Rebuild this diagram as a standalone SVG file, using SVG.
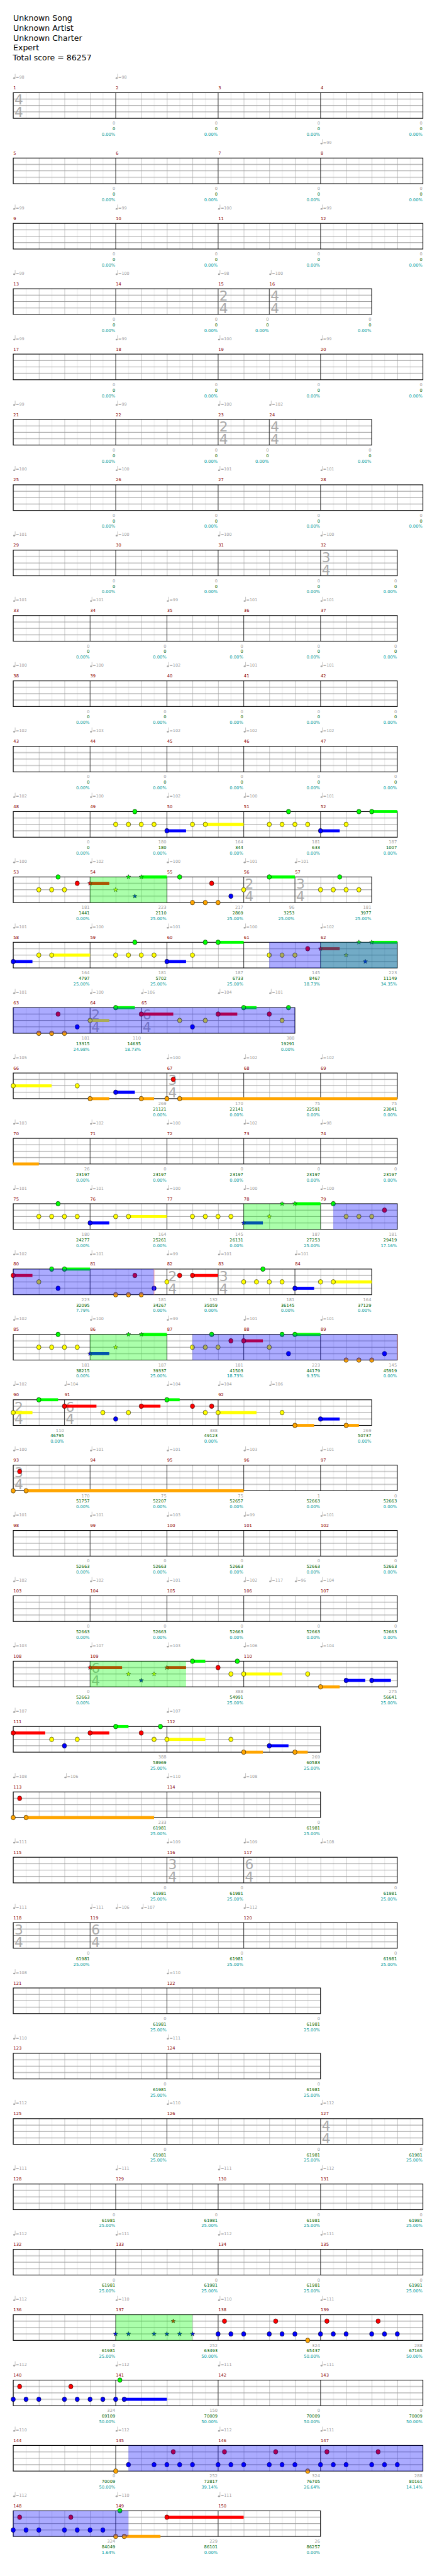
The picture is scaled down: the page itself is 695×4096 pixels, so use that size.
<svg xmlns="http://www.w3.org/2000/svg" xmlns:xlink="http://www.w3.org/1999/xlink" width="695" height="4096" viewBox="0 0 695 4096">
<style>
text{font-family:"DejaVu Sans","Liberation Sans",sans-serif}
.h{font-size:18.5px;fill:#000}
.mn{font-size:10px;fill:#8b0000}
.tp{font-size:9.5px;fill:#a0a0a0}
.sc{font-size:10px;fill:#a0a0a0;text-anchor:end}
.s2{fill:#006400}.s3{fill:#009999}
.ts{font-size:32px;fill:#aaa}
.g{fill:#00ff00}.r{fill:#ff0000}.y{fill:#ffff00}.b{fill:#0000ff}.o{fill:#ffa500}
.bl{fill:#0000ff;fill-opacity:.33}.gr{fill:#00ff00;fill-opacity:.33}
.bar{stroke:#000;stroke-width:1;fill:none}
.bd{fill:none;stroke:#000;stroke-width:1.6}
.gd{fill:url(#gd)}
.pk{stroke:#ff8080;stroke-width:1;fill:none}
</style>
<defs>
<pattern id="gd" width="60" height="60" patternUnits="userSpaceOnUse">
<rect width="60" height="60" fill="#fff"/>
<path d="M30.5 0v60" stroke="#ddd" stroke-width="1"/>
<path d="M0.5 0v60" stroke="#999" stroke-width="1"/>
<path d="M0 15h60M0 30h60M0 45h60" stroke="#999" stroke-width="1.5"/>
</pattern>
<ellipse id="n" rx="5" ry="5.5" stroke="#000" stroke-width=".8"/>
<polygon id="s" points="0,-5.5 1.35,-1.86 5.23,-1.7 2.19,0.71 3.23,4.45 0,2.3 -3.23,4.45 -2.19,0.71 -5.23,-1.7 -1.35,-1.86" stroke="#000" stroke-width=".7"/>
<g id="q" fill="#a0a0a0"><ellipse cx="2.3" cy="-34" rx="2.4" ry="1.8"/><path d="M4.5 -34V-44" stroke="#a0a0a0" stroke-width=".9"/></g>
</defs>
<rect width="695" height="4096" fill="#fff"/>
<g transform="scale(0.6787,0.6792)">
<g id="header">
<text class="h" x="31" y="49">Unknown Song</text>
<text class="h" x="31" y="72">Unknown Artist</text>
<text class="h" x="31" y="95">Unknown Charter</text>
<text class="h" x="31" y="118">Expert</text>
<text class="h" x="30" y="141">Total score = 86257</text>
</g>

<g id="row-1" transform="translate(31,217)">
<rect class="gd" width="960" height="60"/>
<path class="bar" d="M240 0v60M480 0v60M720 0v60"/>
<text class="ts" x="3" y="28">4</text><text class="ts" x="3" y="57">4</text>
<rect class="bd" width="960" height="60"/>
<use href="#q" x="0"/><text class="tp" x="6" y="-33">=98</text>
<use href="#q" x="240"/><text class="tp" x="246" y="-33">=98</text>
<text class="mn" x="0.5" y="-8">1</text><text class="mn" x="240.5" y="-8">2</text><text class="mn" x="480.5" y="-8">3</text><text class="mn" x="720.5" y="-8">4</text>
<text class="sc" x="239" y="75">0<tspan class="s2" x="239" y="88">0</tspan><tspan class="s3" x="239" y="101">0.00%</tspan></text>
<text class="sc" x="479" y="75">0<tspan class="s2" x="479" y="88">0</tspan><tspan class="s3" x="479" y="101">0.00%</tspan></text>
<text class="sc" x="719" y="75">0<tspan class="s2" x="719" y="88">0</tspan><tspan class="s3" x="719" y="101">0.00%</tspan></text>
<text class="sc" x="959" y="75">0<tspan class="s2" x="959" y="88">0</tspan><tspan class="s3" x="959" y="101">0.00%</tspan></text>
</g>

<g id="row-2" transform="translate(31,370)">
<rect class="gd" width="960" height="60"/>
<path class="bar" d="M240 0v60M480 0v60M720 0v60"/>
<rect class="bd" width="960" height="60"/>
<use href="#q" x="720"/><text class="tp" x="726" y="-33">=99</text>
<text class="mn" x="0.5" y="-8">5</text><text class="mn" x="240.5" y="-8">6</text><text class="mn" x="480.5" y="-8">7</text><text class="mn" x="720.5" y="-8">8</text>
<text class="sc" x="239" y="75">0<tspan class="s2" x="239" y="88">0</tspan><tspan class="s3" x="239" y="101">0.00%</tspan></text>
<text class="sc" x="479" y="75">0<tspan class="s2" x="479" y="88">0</tspan><tspan class="s3" x="479" y="101">0.00%</tspan></text>
<text class="sc" x="719" y="75">0<tspan class="s2" x="719" y="88">0</tspan><tspan class="s3" x="719" y="101">0.00%</tspan></text>
<text class="sc" x="959" y="75">0<tspan class="s2" x="959" y="88">0</tspan><tspan class="s3" x="959" y="101">0.00%</tspan></text>
</g>

<g id="row-3" transform="translate(31,523)">
<rect class="gd" width="960" height="60"/>
<path class="bar" d="M240 0v60M480 0v60M720 0v60"/>
<rect class="bd" width="960" height="60"/>
<use href="#q" x="0"/><text class="tp" x="6" y="-33">=99</text>
<use href="#q" x="240"/><text class="tp" x="246" y="-33">=99</text>
<use href="#q" x="480"/><text class="tp" x="486" y="-33">=100</text>
<use href="#q" x="720"/><text class="tp" x="726" y="-33">=99</text>
<text class="mn" x="0.5" y="-8">9</text><text class="mn" x="240.5" y="-8">10</text><text class="mn" x="480.5" y="-8">11</text><text class="mn" x="720.5" y="-8">12</text>
<text class="sc" x="239" y="75">0<tspan class="s2" x="239" y="88">0</tspan><tspan class="s3" x="239" y="101">0.00%</tspan></text>
<text class="sc" x="479" y="75">0<tspan class="s2" x="479" y="88">0</tspan><tspan class="s3" x="479" y="101">0.00%</tspan></text>
<text class="sc" x="719" y="75">0<tspan class="s2" x="719" y="88">0</tspan><tspan class="s3" x="719" y="101">0.00%</tspan></text>
<text class="sc" x="959" y="75">0<tspan class="s2" x="959" y="88">0</tspan><tspan class="s3" x="959" y="101">0.00%</tspan></text>
</g>

<g id="row-4" transform="translate(31,676)">
<rect class="gd" width="840" height="60"/>
<path class="bar" d="M240 0v60M480 0v60M600 0v60"/>
<text class="ts" x="483" y="28">2</text><text class="ts" x="483" y="57">4</text>
<text class="ts" x="603" y="28">4</text><text class="ts" x="603" y="57">4</text>
<rect class="bd" width="840" height="60"/>
<use href="#q" x="0"/><text class="tp" x="6" y="-33">=99</text>
<use href="#q" x="240"/><text class="tp" x="246" y="-33">=100</text>
<use href="#q" x="480"/><text class="tp" x="486" y="-33">=98</text>
<use href="#q" x="600"/><text class="tp" x="606" y="-33">=100</text>
<text class="mn" x="0.5" y="-8">13</text><text class="mn" x="240.5" y="-8">14</text><text class="mn" x="480.5" y="-8">15</text><text class="mn" x="600.5" y="-8">16</text>
<text class="sc" x="239" y="75">0<tspan class="s2" x="239" y="88">0</tspan><tspan class="s3" x="239" y="101">0.00%</tspan></text>
<text class="sc" x="479" y="75">0<tspan class="s2" x="479" y="88">0</tspan><tspan class="s3" x="479" y="101">0.00%</tspan></text>
<text class="sc" x="599" y="75">0<tspan class="s2" x="599" y="88">0</tspan><tspan class="s3" x="599" y="101">0.00%</tspan></text>
<text class="sc" x="839" y="75">0<tspan class="s2" x="839" y="88">0</tspan><tspan class="s3" x="839" y="101">0.00%</tspan></text>
</g>

<g id="row-5" transform="translate(31,829)">
<rect class="gd" width="960" height="60"/>
<path class="bar" d="M240 0v60M480 0v60M720 0v60"/>
<rect class="bd" width="960" height="60"/>
<use href="#q" x="0"/><text class="tp" x="6" y="-33">=99</text>
<use href="#q" x="240"/><text class="tp" x="246" y="-33">=99</text>
<use href="#q" x="480"/><text class="tp" x="486" y="-33">=100</text>
<use href="#q" x="720"/><text class="tp" x="726" y="-33">=99</text>
<text class="mn" x="0.5" y="-8">17</text><text class="mn" x="240.5" y="-8">18</text><text class="mn" x="480.5" y="-8">19</text><text class="mn" x="720.5" y="-8">20</text>
<text class="sc" x="239" y="75">0<tspan class="s2" x="239" y="88">0</tspan><tspan class="s3" x="239" y="101">0.00%</tspan></text>
<text class="sc" x="479" y="75">0<tspan class="s2" x="479" y="88">0</tspan><tspan class="s3" x="479" y="101">0.00%</tspan></text>
<text class="sc" x="719" y="75">0<tspan class="s2" x="719" y="88">0</tspan><tspan class="s3" x="719" y="101">0.00%</tspan></text>
<text class="sc" x="959" y="75">0<tspan class="s2" x="959" y="88">0</tspan><tspan class="s3" x="959" y="101">0.00%</tspan></text>
</g>

<g id="row-6" transform="translate(31,982)">
<rect class="gd" width="840" height="60"/>
<path class="bar" d="M240 0v60M480 0v60M600 0v60"/>
<text class="ts" x="483" y="28">2</text><text class="ts" x="483" y="57">4</text>
<text class="ts" x="603" y="28">4</text><text class="ts" x="603" y="57">4</text>
<rect class="bd" width="840" height="60"/>
<use href="#q" x="0"/><text class="tp" x="6" y="-33">=99</text>
<use href="#q" x="240"/><text class="tp" x="246" y="-33">=99</text>
<use href="#q" x="480"/><text class="tp" x="486" y="-33">=100</text>
<use href="#q" x="600"/><text class="tp" x="606" y="-33">=102</text>
<text class="mn" x="0.5" y="-8">21</text><text class="mn" x="240.5" y="-8">22</text><text class="mn" x="480.5" y="-8">23</text><text class="mn" x="600.5" y="-8">24</text>
<text class="sc" x="239" y="75">0<tspan class="s2" x="239" y="88">0</tspan><tspan class="s3" x="239" y="101">0.00%</tspan></text>
<text class="sc" x="479" y="75">0<tspan class="s2" x="479" y="88">0</tspan><tspan class="s3" x="479" y="101">0.00%</tspan></text>
<text class="sc" x="599" y="75">0<tspan class="s2" x="599" y="88">0</tspan><tspan class="s3" x="599" y="101">0.00%</tspan></text>
<text class="sc" x="839" y="75">0<tspan class="s2" x="839" y="88">0</tspan><tspan class="s3" x="839" y="101">0.00%</tspan></text>
</g>

<g id="row-7" transform="translate(31,1135)">
<rect class="gd" width="960" height="60"/>
<path class="bar" d="M240 0v60M480 0v60M720 0v60"/>
<rect class="bd" width="960" height="60"/>
<use href="#q" x="0"/><text class="tp" x="6" y="-33">=100</text>
<use href="#q" x="240"/><text class="tp" x="246" y="-33">=100</text>
<use href="#q" x="480"/><text class="tp" x="486" y="-33">=101</text>
<use href="#q" x="720"/><text class="tp" x="726" y="-33">=101</text>
<text class="mn" x="0.5" y="-8">25</text><text class="mn" x="240.5" y="-8">26</text><text class="mn" x="480.5" y="-8">27</text><text class="mn" x="720.5" y="-8">28</text>
<text class="sc" x="239" y="75">0<tspan class="s2" x="239" y="88">0</tspan><tspan class="s3" x="239" y="101">0.00%</tspan></text>
<text class="sc" x="479" y="75">0<tspan class="s2" x="479" y="88">0</tspan><tspan class="s3" x="479" y="101">0.00%</tspan></text>
<text class="sc" x="719" y="75">0<tspan class="s2" x="719" y="88">0</tspan><tspan class="s3" x="719" y="101">0.00%</tspan></text>
<text class="sc" x="959" y="75">0<tspan class="s2" x="959" y="88">0</tspan><tspan class="s3" x="959" y="101">0.00%</tspan></text>
</g>

<g id="row-8" transform="translate(31,1288)">
<rect class="gd" width="900" height="60"/>
<path class="bar" d="M240 0v60M480 0v60M720 0v60"/>
<text class="ts" x="723" y="28">3</text><text class="ts" x="723" y="57">4</text>
<rect class="bd" width="900" height="60"/>
<use href="#q" x="0"/><text class="tp" x="6" y="-33">=101</text>
<use href="#q" x="240"/><text class="tp" x="246" y="-33">=100</text>
<use href="#q" x="480"/><text class="tp" x="486" y="-33">=100</text>
<use href="#q" x="720"/><text class="tp" x="726" y="-33">=100</text>
<text class="mn" x="0.5" y="-8">29</text><text class="mn" x="240.5" y="-8">30</text><text class="mn" x="480.5" y="-8">31</text><text class="mn" x="720.5" y="-8">32</text>
<text class="sc" x="239" y="75">0<tspan class="s2" x="239" y="88">0</tspan><tspan class="s3" x="239" y="101">0.00%</tspan></text>
<text class="sc" x="479" y="75">0<tspan class="s2" x="479" y="88">0</tspan><tspan class="s3" x="479" y="101">0.00%</tspan></text>
<text class="sc" x="719" y="75">0<tspan class="s2" x="719" y="88">0</tspan><tspan class="s3" x="719" y="101">0.00%</tspan></text>
<text class="sc" x="899" y="75">0<tspan class="s2" x="899" y="88">0</tspan><tspan class="s3" x="899" y="101">0.00%</tspan></text>
</g>

<g id="row-9" transform="translate(31,1441)">
<rect class="gd" width="900" height="60"/>
<path class="bar" d="M180 0v60M360 0v60M540 0v60M720 0v60"/>
<rect class="bd" width="900" height="60"/>
<use href="#q" x="0"/><text class="tp" x="6" y="-33">=101</text>
<use href="#q" x="180"/><text class="tp" x="186" y="-33">=101</text>
<use href="#q" x="360"/><text class="tp" x="366" y="-33">=99</text>
<use href="#q" x="540"/><text class="tp" x="546" y="-33">=101</text>
<use href="#q" x="720"/><text class="tp" x="726" y="-33">=101</text>
<text class="mn" x="0.5" y="-8">33</text><text class="mn" x="180.5" y="-8">34</text><text class="mn" x="360.5" y="-8">35</text><text class="mn" x="540.5" y="-8">36</text><text class="mn" x="720.5" y="-8">37</text>
<text class="sc" x="179" y="75">0<tspan class="s2" x="179" y="88">0</tspan><tspan class="s3" x="179" y="101">0.00%</tspan></text>
<text class="sc" x="359" y="75">0<tspan class="s2" x="359" y="88">0</tspan><tspan class="s3" x="359" y="101">0.00%</tspan></text>
<text class="sc" x="539" y="75">0<tspan class="s2" x="539" y="88">0</tspan><tspan class="s3" x="539" y="101">0.00%</tspan></text>
<text class="sc" x="719" y="75">0<tspan class="s2" x="719" y="88">0</tspan><tspan class="s3" x="719" y="101">0.00%</tspan></text>
<text class="sc" x="899" y="75">0<tspan class="s2" x="899" y="88">0</tspan><tspan class="s3" x="899" y="101">0.00%</tspan></text>
</g>

<g id="row-10" transform="translate(31,1594)">
<rect class="gd" width="900" height="60"/>
<path class="bar" d="M180 0v60M360 0v60M540 0v60M720 0v60"/>
<rect class="bd" width="900" height="60"/>
<use href="#q" x="0"/><text class="tp" x="6" y="-33">=100</text>
<use href="#q" x="180"/><text class="tp" x="186" y="-33">=100</text>
<use href="#q" x="360"/><text class="tp" x="366" y="-33">=102</text>
<use href="#q" x="540"/><text class="tp" x="546" y="-33">=101</text>
<use href="#q" x="720"/><text class="tp" x="726" y="-33">=101</text>
<text class="mn" x="0.5" y="-8">38</text><text class="mn" x="180.5" y="-8">39</text><text class="mn" x="360.5" y="-8">40</text><text class="mn" x="540.5" y="-8">41</text><text class="mn" x="720.5" y="-8">42</text>
<text class="sc" x="179" y="75">0<tspan class="s2" x="179" y="88">0</tspan><tspan class="s3" x="179" y="101">0.00%</tspan></text>
<text class="sc" x="359" y="75">0<tspan class="s2" x="359" y="88">0</tspan><tspan class="s3" x="359" y="101">0.00%</tspan></text>
<text class="sc" x="539" y="75">0<tspan class="s2" x="539" y="88">0</tspan><tspan class="s3" x="539" y="101">0.00%</tspan></text>
<text class="sc" x="719" y="75">0<tspan class="s2" x="719" y="88">0</tspan><tspan class="s3" x="719" y="101">0.00%</tspan></text>
<text class="sc" x="899" y="75">0<tspan class="s2" x="899" y="88">0</tspan><tspan class="s3" x="899" y="101">0.00%</tspan></text>
</g>

<g id="row-11" transform="translate(31,1747)">
<rect class="gd" width="900" height="60"/>
<path class="bar" d="M180 0v60M360 0v60M540 0v60M720 0v60"/>
<rect class="bd" width="900" height="60"/>
<use href="#q" x="0"/><text class="tp" x="6" y="-33">=102</text>
<use href="#q" x="180"/><text class="tp" x="186" y="-33">=103</text>
<use href="#q" x="360"/><text class="tp" x="366" y="-33">=102</text>
<use href="#q" x="540"/><text class="tp" x="546" y="-33">=102</text>
<use href="#q" x="720"/><text class="tp" x="726" y="-33">=102</text>
<text class="mn" x="0.5" y="-8">43</text><text class="mn" x="180.5" y="-8">44</text><text class="mn" x="360.5" y="-8">45</text><text class="mn" x="540.5" y="-8">46</text><text class="mn" x="720.5" y="-8">47</text>
<text class="sc" x="179" y="75">0<tspan class="s2" x="179" y="88">0</tspan><tspan class="s3" x="179" y="101">0.00%</tspan></text>
<text class="sc" x="359" y="75">0<tspan class="s2" x="359" y="88">0</tspan><tspan class="s3" x="359" y="101">0.00%</tspan></text>
<text class="sc" x="539" y="75">0<tspan class="s2" x="539" y="88">0</tspan><tspan class="s3" x="539" y="101">0.00%</tspan></text>
<text class="sc" x="719" y="75">0<tspan class="s2" x="719" y="88">0</tspan><tspan class="s3" x="719" y="101">0.00%</tspan></text>
<text class="sc" x="899" y="75">0<tspan class="s2" x="899" y="88">0</tspan><tspan class="s3" x="899" y="101">0.00%</tspan></text>
</g>

<g id="row-12" transform="translate(31,1900)">
<rect class="gd" width="900" height="60"/>
<path class="bar" d="M180 0v60M360 0v60M540 0v60M720 0v60"/>
<rect class="bd" width="900" height="60"/>
<rect class="b" x="360" y="41.5" width="45" height="7"/><rect class="y" x="450" y="26.5" width="90" height="7"/><rect class="b" x="720" y="41.5" width="45" height="7"/><rect class="g" x="840" y="-3.5" width="60" height="7"/>
<use href="#n" class="g" x="285" y="0"/>
<use href="#n" class="y" x="240" y="30"/><use href="#n" class="y" x="270" y="30"/><use href="#n" class="y" x="300" y="30"/><use href="#n" class="y" x="330" y="30"/>
<use href="#n" class="b" x="360" y="45"/><use href="#n" class="y" x="420" y="30"/><use href="#n" class="y" x="450" y="30"/>
<use href="#n" class="g" x="645" y="0"/>
<use href="#n" class="y" x="600" y="30"/><use href="#n" class="y" x="630" y="30"/><use href="#n" class="y" x="660" y="30"/><use href="#n" class="y" x="690" y="30"/>
<use href="#n" class="b" x="720" y="45"/><use href="#n" class="y" x="780" y="30"/><use href="#n" class="g" x="810" y="0"/><use href="#n" class="g" x="840" y="0"/>
<use href="#q" x="0"/><text class="tp" x="6" y="-33">=102</text>
<use href="#q" x="180"/><text class="tp" x="186" y="-33">=100</text>
<use href="#q" x="360"/><text class="tp" x="366" y="-33">=102</text>
<use href="#q" x="540"/><text class="tp" x="546" y="-33">=100</text>
<use href="#q" x="720"/><text class="tp" x="726" y="-33">=101</text>
<text class="mn" x="0.5" y="-8">48</text><text class="mn" x="180.5" y="-8">49</text><text class="mn" x="360.5" y="-8">50</text><text class="mn" x="540.5" y="-8">51</text><text class="mn" x="720.5" y="-8">52</text>
<text class="sc" x="179" y="75">0<tspan class="s2" x="179" y="88">0</tspan><tspan class="s3" x="179" y="101">0.00%</tspan></text>
<text class="sc" x="359" y="75">180<tspan class="s2" x="359" y="88">180</tspan><tspan class="s3" x="359" y="101">0.00%</tspan></text>
<text class="sc" x="539" y="75">164<tspan class="s2" x="539" y="88">344</tspan><tspan class="s3" x="539" y="101">0.00%</tspan></text>
<text class="sc" x="719" y="75">181<tspan class="s2" x="719" y="88">633</tspan><tspan class="s3" x="719" y="101">0.00%</tspan></text>
<text class="sc" x="899" y="75">187<tspan class="s2" x="899" y="88">1007</tspan><tspan class="s3" x="899" y="101">0.00%</tspan></text>
</g>

<g id="row-13" transform="translate(31,2053)">
<rect class="gd" width="840" height="60"/>
<path class="bar" d="M180 0v60M360 0v60M540 0v60M660 0v60"/>
<text class="ts" x="543" y="28">2</text><text class="ts" x="543" y="57">4</text>
<text class="ts" x="663" y="28">3</text><text class="ts" x="663" y="57">4</text>
<rect class="bd" width="840" height="60"/>
<rect class="r" x="180" y="11.5" width="45" height="7"/><rect class="g" x="300" y="-3.5" width="60" height="7"/><rect class="g" x="600" y="-3.5" width="60" height="7"/>
<use href="#n" class="g" x="105" y="0"/><use href="#n" class="r" x="150" y="15"/>
<use href="#n" class="y" x="60" y="30"/><use href="#n" class="y" x="90" y="30"/><use href="#n" class="y" x="120" y="30"/>
<use href="#s" class="r" x="180" y="15"/><use href="#s" class="y" x="240" y="30"/><use href="#s" class="g" x="270" y="0"/><use href="#s" class="g" x="300" y="0"/><use href="#s" class="b" x="285" y="45"/>
<use href="#n" class="g" x="390" y="0"/><use href="#n" class="r" x="465" y="15"/>
<use href="#n" class="o" x="420" y="60"/><use href="#n" class="o" x="450" y="60"/><use href="#n" class="o" x="480" y="60"/>
<use href="#n" class="b" x="510" y="45"/><use href="#n" class="y" x="540" y="30"/><use href="#n" class="g" x="600" y="0"/><use href="#n" class="g" x="765" y="0"/>
<use href="#n" class="y" x="720" y="30"/><use href="#n" class="y" x="750" y="30"/><use href="#n" class="y" x="780" y="30"/><use href="#n" class="y" x="810" y="30"/>
<rect class="gr" x="180" y="0" width="180" height="60"/>
<use href="#q" x="0"/><text class="tp" x="6" y="-33">=100</text>
<use href="#q" x="180"/><text class="tp" x="186" y="-33">=102</text>
<use href="#q" x="360"/><text class="tp" x="366" y="-33">=100</text>
<use href="#q" x="540"/><text class="tp" x="546" y="-33">=101</text>
<use href="#q" x="660"/><text class="tp" x="666" y="-33">=101</text>
<text class="mn" x="0.5" y="-8">53</text><text class="mn" x="180.5" y="-8">54</text><text class="mn" x="360.5" y="-8">55</text><text class="mn" x="540.5" y="-8">56</text><text class="mn" x="660.5" y="-8">57</text>
<text class="sc" x="179" y="75">181<tspan class="s2" x="179" y="88">1441</tspan><tspan class="s3" x="179" y="101">0.00%</tspan></text>
<text class="sc" x="359" y="75">223<tspan class="s2" x="359" y="88">2110</tspan><tspan class="s3" x="359" y="101">25.00%</tspan></text>
<text class="sc" x="539" y="75">217<tspan class="s2" x="539" y="88">2869</tspan><tspan class="s3" x="539" y="101">25.00%</tspan></text>
<text class="sc" x="659" y="75">96<tspan class="s2" x="659" y="88">3253</tspan><tspan class="s3" x="659" y="101">25.00%</tspan></text>
<text class="sc" x="839" y="75">181<tspan class="s2" x="839" y="88">3977</tspan><tspan class="s3" x="839" y="101">25.00%</tspan></text>
</g>

<g id="row-14" transform="translate(31,2206)">
<rect class="gd" width="900" height="60"/>
<path class="bar" d="M180 0v60M360 0v60M540 0v60M720 0v60"/>
<rect class="bd" width="900" height="60"/>
<rect class="b" x="0" y="41.5" width="45" height="7"/><rect class="y" x="90" y="26.5" width="90" height="7"/><rect class="b" x="360" y="41.5" width="45" height="7"/><rect class="g" x="480" y="-3.5" width="60" height="7"/><rect class="r" x="720" y="11.5" width="45" height="7"/><rect class="g" x="840" y="-3.5" width="60" height="7"/>
<use href="#n" class="b" x="0" y="45"/><use href="#n" class="y" x="60" y="30"/><use href="#n" class="y" x="90" y="30"/>
<use href="#n" class="g" x="285" y="0"/>
<use href="#n" class="y" x="240" y="30"/><use href="#n" class="y" x="270" y="30"/><use href="#n" class="y" x="300" y="30"/><use href="#n" class="y" x="330" y="30"/>
<use href="#n" class="b" x="360" y="45"/><use href="#n" class="y" x="420" y="30"/><use href="#n" class="g" x="450" y="0"/><use href="#n" class="g" x="480" y="0"/>
<use href="#n" class="y" x="600" y="30"/><use href="#n" class="y" x="630" y="30"/><use href="#n" class="y" x="660" y="30"/><use href="#n" class="r" x="690" y="15"/>
<use href="#s" class="r" x="720" y="15"/><use href="#s" class="y" x="780" y="30"/><use href="#s" class="g" x="810" y="0"/><use href="#s" class="g" x="840" y="0"/><use href="#s" class="b" x="825" y="45"/>
<rect class="gr" x="720" y="0" width="180" height="60"/><rect class="bl" x="600" y="0" width="300" height="60"/>
<use href="#q" x="0"/><text class="tp" x="6" y="-33">=101</text>
<use href="#q" x="180"/><text class="tp" x="186" y="-33">=100</text>
<use href="#q" x="360"/><text class="tp" x="366" y="-33">=101</text>
<use href="#q" x="540"/><text class="tp" x="546" y="-33">=100</text>
<use href="#q" x="720"/><text class="tp" x="726" y="-33">=102</text>
<text class="mn" x="0.5" y="-8">58</text><text class="mn" x="180.5" y="-8">59</text><text class="mn" x="360.5" y="-8">60</text><text class="mn" x="540.5" y="-8">61</text><text class="mn" x="720.5" y="-8">62</text>
<text class="sc" x="179" y="75">164<tspan class="s2" x="179" y="88">4797</tspan><tspan class="s3" x="179" y="101">25.00%</tspan></text>
<text class="sc" x="359" y="75">181<tspan class="s2" x="359" y="88">5702</tspan><tspan class="s3" x="359" y="101">25.00%</tspan></text>
<text class="sc" x="539" y="75">187<tspan class="s2" x="539" y="88">6733</tspan><tspan class="s3" x="539" y="101">25.00%</tspan></text>
<text class="sc" x="719" y="75">145<tspan class="s2" x="719" y="88">8467</tspan><tspan class="s3" x="719" y="101">18.73%</tspan></text>
<text class="sc" x="899" y="75">223<tspan class="s2" x="899" y="88">11149</tspan><tspan class="s3" x="899" y="101">34.35%</tspan></text>
</g>

<g id="row-15" transform="translate(31,2359)">
<rect class="gd" width="660" height="60"/>
<path class="bar" d="M180 0v60M300 0v60"/>
<text class="ts" x="183" y="28">2</text><text class="ts" x="183" y="57">4</text>
<text class="ts" x="303" y="28">6</text><text class="ts" x="303" y="57">4</text>
<rect class="bd" width="660" height="60"/>
<rect class="y" x="180" y="26.5" width="45" height="7"/><rect class="g" x="240" y="-3.5" width="45" height="7"/><rect class="r" x="300" y="11.5" width="75" height="7"/><rect class="r" x="480" y="11.5" width="45" height="7"/><rect class="g" x="540" y="-3.5" width="30" height="7"/>
<use href="#n" class="r" x="105" y="15"/><use href="#n" class="b" x="150" y="45"/>
<use href="#n" class="o" x="60" y="60"/><use href="#n" class="o" x="90" y="60"/><use href="#n" class="o" x="120" y="60"/>
<use href="#n" class="y" x="180" y="30"/><use href="#n" class="g" x="240" y="0"/><use href="#n" class="r" x="300" y="15"/>
<use href="#n" class="y" x="390" y="30"/><use href="#n" class="b" x="420" y="45"/><use href="#n" class="y" x="450" y="30"/>
<use href="#n" class="r" x="480" y="15"/><use href="#n" class="g" x="540" y="0"/><use href="#n" class="r" x="600" y="15"/><use href="#n" class="y" x="630" y="30"/><use href="#n" class="g" x="645" y="0"/>
<rect class="bl" x="0" y="0" width="660" height="60"/>
<use href="#q" x="0"/><text class="tp" x="6" y="-33">=101</text>
<use href="#q" x="180"/><text class="tp" x="186" y="-33">=100</text>
<use href="#q" x="300"/><text class="tp" x="306" y="-33">=106</text>
<use href="#q" x="480"/><text class="tp" x="486" y="-33">=104</text>
<use href="#q" x="600"/><text class="tp" x="606" y="-33">=101</text>
<text class="mn" x="0.5" y="-8">63</text><text class="mn" x="180.5" y="-8">64</text><text class="mn" x="300.5" y="-8">65</text>
<text class="sc" x="179" y="75">181<tspan class="s2" x="179" y="88">13315</tspan><tspan class="s3" x="179" y="101">24.98%</tspan></text>
<text class="sc" x="299" y="75">110<tspan class="s2" x="299" y="88">14635</tspan><tspan class="s3" x="299" y="101">18.73%</tspan></text>
<text class="sc" x="659" y="75">388<tspan class="s2" x="659" y="88">19291</tspan><tspan class="s3" x="659" y="101">0.00%</tspan></text>
</g>

<g id="row-16" transform="translate(31,2512)">
<rect class="gd" width="900" height="60"/>
<path class="bar" d="M360 0v60M540 0v60M720 0v60"/>
<text class="ts" x="363" y="28">3</text><text class="ts" x="363" y="57">4</text>
<rect class="bd" width="900" height="60"/>
<rect class="y" x="0" y="26.5" width="90" height="7"/><rect class="b" x="240" y="41.5" width="45" height="7"/><rect class="o" x="180" y="56.5" width="45" height="7"/><rect class="o" x="300" y="56.5" width="30" height="7"/><rect class="o" x="390" y="56.5" width="510" height="7"/>
<use href="#n" class="y" x="0" y="30"/><use href="#n" class="y" x="150" y="30"/><use href="#n" class="b" x="240" y="45"/>
<use href="#n" class="o" x="180" y="60"/><use href="#n" class="o" x="300" y="60"/><use href="#n" class="o" x="360" y="60"/><use href="#n" class="r" x="375" y="15"/><use href="#n" class="o" x="390" y="60"/>
<use href="#q" x="0"/><text class="tp" x="6" y="-33">=105</text>
<use href="#q" x="360"/><text class="tp" x="366" y="-33">=100</text>
<use href="#q" x="540"/><text class="tp" x="546" y="-33">=102</text>
<use href="#q" x="720"/><text class="tp" x="726" y="-33">=102</text>
<text class="mn" x="0.5" y="-8">66</text><text class="mn" x="360.5" y="-8">67</text><text class="mn" x="540.5" y="-8">68</text><text class="mn" x="720.5" y="-8">69</text>
<text class="sc" x="359" y="75">269<tspan class="s2" x="359" y="88">21121</tspan><tspan class="s3" x="359" y="101">0.00%</tspan></text>
<text class="sc" x="539" y="75">170<tspan class="s2" x="539" y="88">22141</tspan><tspan class="s3" x="539" y="101">0.00%</tspan></text>
<text class="sc" x="719" y="75">75<tspan class="s2" x="719" y="88">22591</tspan><tspan class="s3" x="719" y="101">0.00%</tspan></text>
<text class="sc" x="899" y="75">75<tspan class="s2" x="899" y="88">23041</tspan><tspan class="s3" x="899" y="101">0.00%</tspan></text>
</g>

<g id="row-17" transform="translate(31,2665)">
<rect class="gd" width="900" height="60"/>
<path class="bar" d="M180 0v60M360 0v60M540 0v60M720 0v60"/>
<rect class="bd" width="900" height="60"/>
<rect class="o" x="0" y="56.5" width="60" height="7"/>
<use href="#q" x="0"/><text class="tp" x="6" y="-33">=103</text>
<use href="#q" x="180"/><text class="tp" x="186" y="-33">=102</text>
<use href="#q" x="360"/><text class="tp" x="366" y="-33">=100</text>
<use href="#q" x="540"/><text class="tp" x="546" y="-33">=102</text>
<use href="#q" x="720"/><text class="tp" x="726" y="-33">=98</text>
<text class="mn" x="0.5" y="-8">70</text><text class="mn" x="180.5" y="-8">71</text><text class="mn" x="360.5" y="-8">72</text><text class="mn" x="540.5" y="-8">73</text><text class="mn" x="720.5" y="-8">74</text>
<text class="sc" x="179" y="75">26<tspan class="s2" x="179" y="88">23197</tspan><tspan class="s3" x="179" y="101">0.00%</tspan></text>
<text class="sc" x="359" y="75">0<tspan class="s2" x="359" y="88">23197</tspan><tspan class="s3" x="359" y="101">0.00%</tspan></text>
<text class="sc" x="539" y="75">0<tspan class="s2" x="539" y="88">23197</tspan><tspan class="s3" x="539" y="101">0.00%</tspan></text>
<text class="sc" x="719" y="75">0<tspan class="s2" x="719" y="88">23197</tspan><tspan class="s3" x="719" y="101">0.00%</tspan></text>
<text class="sc" x="899" y="75">0<tspan class="s2" x="899" y="88">23197</tspan><tspan class="s3" x="899" y="101">0.00%</tspan></text>
</g>

<g id="row-18" transform="translate(31,2818)">
<rect class="gd" width="900" height="60"/>
<path class="bar" d="M180 0v60M360 0v60M540 0v60M720 0v60"/>
<rect class="bd" width="900" height="60"/>
<rect class="b" x="180" y="41.5" width="45" height="7"/><rect class="y" x="270" y="26.5" width="90" height="7"/><rect class="b" x="540" y="41.5" width="45" height="7"/><rect class="g" x="660" y="-3.5" width="60" height="7"/>
<use href="#n" class="g" x="105" y="0"/>
<use href="#n" class="y" x="60" y="30"/><use href="#n" class="y" x="90" y="30"/><use href="#n" class="y" x="120" y="30"/><use href="#n" class="y" x="150" y="30"/>
<use href="#n" class="b" x="180" y="45"/><use href="#n" class="y" x="240" y="30"/><use href="#n" class="y" x="270" y="30"/>
<use href="#n" class="y" x="420" y="30"/><use href="#n" class="y" x="450" y="30"/><use href="#n" class="y" x="480" y="30"/><use href="#n" class="y" x="510" y="30"/>
<use href="#s" class="b" x="540" y="45"/><use href="#s" class="y" x="600" y="30"/><use href="#s" class="g" x="630" y="0"/><use href="#s" class="g" x="660" y="0"/>
<use href="#n" class="g" x="750" y="0"/><use href="#n" class="y" x="780" y="30"/><use href="#n" class="y" x="810" y="30"/><use href="#n" class="y" x="840" y="30"/><use href="#n" class="r" x="870" y="15"/>
<rect class="gr" x="540" y="0" width="180" height="60"/><rect class="bl" x="750" y="0" width="150" height="60"/>
<use href="#q" x="0"/><text class="tp" x="6" y="-33">=101</text>
<use href="#q" x="180"/><text class="tp" x="186" y="-33">=101</text>
<use href="#q" x="360"/><text class="tp" x="366" y="-33">=100</text>
<use href="#q" x="540"/><text class="tp" x="546" y="-33">=100</text>
<use href="#q" x="720"/><text class="tp" x="726" y="-33">=100</text>
<text class="mn" x="0.5" y="-8">75</text><text class="mn" x="180.5" y="-8">76</text><text class="mn" x="360.5" y="-8">77</text><text class="mn" x="540.5" y="-8">78</text><text class="mn" x="720.5" y="-8">79</text>
<text class="sc" x="179" y="75">180<tspan class="s2" x="179" y="88">24277</tspan><tspan class="s3" x="179" y="101">0.00%</tspan></text>
<text class="sc" x="359" y="75">164<tspan class="s2" x="359" y="88">25261</tspan><tspan class="s3" x="359" y="101">0.00%</tspan></text>
<text class="sc" x="539" y="75">145<tspan class="s2" x="539" y="88">26131</tspan><tspan class="s3" x="539" y="101">0.00%</tspan></text>
<text class="sc" x="719" y="75">187<tspan class="s2" x="719" y="88">27253</tspan><tspan class="s3" x="719" y="101">25.00%</tspan></text>
<text class="sc" x="899" y="75">181<tspan class="s2" x="899" y="88">29419</tspan><tspan class="s3" x="899" y="101">17.16%</tspan></text>
</g>

<g id="row-19" transform="translate(31,2971)">
<rect class="gd" width="840" height="60"/>
<path class="bar" d="M180 0v60M360 0v60M480 0v60M660 0v60"/>
<text class="ts" x="363" y="28">2</text><text class="ts" x="363" y="57">4</text>
<text class="ts" x="483" y="28">3</text><text class="ts" x="483" y="57">4</text>
<rect class="bd" width="840" height="60"/>
<rect class="r" x="0" y="11.5" width="45" height="7"/><rect class="g" x="120" y="-3.5" width="60" height="7"/><rect class="r" x="420" y="11.5" width="60" height="7"/><rect class="b" x="660" y="41.5" width="45" height="7"/><rect class="y" x="750" y="26.5" width="90" height="7"/>
<use href="#n" class="r" x="0" y="15"/><use href="#n" class="y" x="60" y="30"/><use href="#n" class="g" x="90" y="0"/><use href="#n" class="g" x="120" y="0"/><use href="#n" class="b" x="105" y="45"/>
<use href="#n" class="r" x="285" y="15"/><use href="#n" class="o" x="240" y="60"/><use href="#n" class="o" x="270" y="60"/><use href="#n" class="o" x="300" y="60"/><use href="#n" class="b" x="330" y="45"/>
<use href="#n" class="y" x="360" y="30"/><use href="#n" class="r" x="390" y="15"/><use href="#n" class="r" x="420" y="15"/>
<use href="#n" class="g" x="585" y="0"/><use href="#n" class="y" x="540" y="30"/><use href="#n" class="y" x="570" y="30"/><use href="#n" class="y" x="600" y="30"/><use href="#n" class="y" x="630" y="30"/>
<use href="#n" class="b" x="660" y="45"/><use href="#n" class="y" x="720" y="30"/><use href="#n" class="y" x="750" y="30"/>
<rect class="bl" x="0" y="0" width="330" height="60"/><path class="pk" d="M330 0v60"/>
<use href="#q" x="0"/><text class="tp" x="6" y="-33">=102</text>
<use href="#q" x="180"/><text class="tp" x="186" y="-33">=101</text>
<use href="#q" x="360"/><text class="tp" x="366" y="-33">=99</text>
<use href="#q" x="480"/><text class="tp" x="486" y="-33">=101</text>
<use href="#q" x="660"/><text class="tp" x="666" y="-33">=101</text>
<text class="mn" x="0.5" y="-8">80</text><text class="mn" x="180.5" y="-8">81</text><text class="mn" x="360.5" y="-8">82</text><text class="mn" x="480.5" y="-8">83</text><text class="mn" x="660.5" y="-8">84</text>
<text class="sc" x="179" y="75">223<tspan class="s2" x="179" y="88">32095</tspan><tspan class="s3" x="179" y="101">7.79%</tspan></text>
<text class="sc" x="359" y="75">181<tspan class="s2" x="359" y="88">34267</tspan><tspan class="s3" x="359" y="101">0.00%</tspan></text>
<text class="sc" x="479" y="75">132<tspan class="s2" x="479" y="88">35059</tspan><tspan class="s3" x="479" y="101">0.00%</tspan></text>
<text class="sc" x="659" y="75">181<tspan class="s2" x="659" y="88">36145</tspan><tspan class="s3" x="659" y="101">0.00%</tspan></text>
<text class="sc" x="839" y="75">164<tspan class="s2" x="839" y="88">37129</tspan><tspan class="s3" x="839" y="101">0.00%</tspan></text>
</g>

<g id="row-20" transform="translate(31,3124)">
<rect class="gd" width="900" height="60"/>
<path class="bar" d="M180 0v60M360 0v60M540 0v60M720 0v60"/>
<rect class="bd" width="900" height="60"/>
<rect class="b" x="180" y="41.5" width="45" height="7"/><rect class="g" x="300" y="-3.5" width="60" height="7"/><rect class="r" x="540" y="11.5" width="45" height="7"/><rect class="g" x="660" y="-3.5" width="60" height="7"/>
<use href="#n" class="g" x="105" y="0"/>
<use href="#n" class="y" x="60" y="30"/><use href="#n" class="y" x="90" y="30"/><use href="#n" class="y" x="120" y="30"/><use href="#n" class="y" x="150" y="30"/>
<use href="#s" class="b" x="180" y="45"/><use href="#s" class="y" x="240" y="30"/><use href="#s" class="g" x="270" y="0"/><use href="#s" class="g" x="300" y="0"/>
<use href="#n" class="y" x="420" y="30"/><use href="#n" class="y" x="450" y="30"/><use href="#n" class="y" x="480" y="30"/><use href="#n" class="g" x="465" y="0"/>
<use href="#n" class="r" x="510" y="15"/><use href="#n" class="r" x="540" y="15"/><use href="#n" class="y" x="600" y="30"/>
<use href="#n" class="g" x="630" y="0"/><use href="#n" class="g" x="660" y="0"/><use href="#n" class="b" x="645" y="45"/>
<use href="#n" class="o" x="780" y="60"/><use href="#n" class="o" x="810" y="60"/><use href="#n" class="o" x="840" y="60"/><use href="#n" class="b" x="870" y="45"/>
<rect class="gr" x="180" y="0" width="180" height="60"/><rect class="bl" x="420" y="0" width="480" height="60"/><path class="pk" d="M900 0v60"/>
<use href="#q" x="0"/><text class="tp" x="6" y="-33">=102</text>
<use href="#q" x="180"/><text class="tp" x="186" y="-33">=100</text>
<use href="#q" x="360"/><text class="tp" x="366" y="-33">=99</text>
<use href="#q" x="540"/><text class="tp" x="546" y="-33">=101</text>
<use href="#q" x="720"/><text class="tp" x="726" y="-33">=101</text>
<text class="mn" x="0.5" y="-8">85</text><text class="mn" x="180.5" y="-8">86</text><text class="mn" x="360.5" y="-8">87</text><text class="mn" x="540.5" y="-8">88</text><text class="mn" x="720.5" y="-8">89</text>
<text class="sc" x="179" y="75">181<tspan class="s2" x="179" y="88">38215</tspan><tspan class="s3" x="179" y="101">0.00%</tspan></text>
<text class="sc" x="359" y="75">187<tspan class="s2" x="359" y="88">39337</tspan><tspan class="s3" x="359" y="101">25.00%</tspan></text>
<text class="sc" x="539" y="75">181<tspan class="s2" x="539" y="88">41503</tspan><tspan class="s3" x="539" y="101">18.73%</tspan></text>
<text class="sc" x="719" y="75">223<tspan class="s2" x="719" y="88">44179</tspan><tspan class="s3" x="719" y="101">9.35%</tspan></text>
<text class="sc" x="899" y="75">145<tspan class="s2" x="899" y="88">45919</tspan><tspan class="s3" x="899" y="101">0.00%</tspan></text>
</g>

<g id="row-21" transform="translate(31,3277)">
<rect class="gd" width="840" height="60"/>
<path class="bar" d="M120 0v60M480 0v60"/>
<text class="ts" x="3" y="28">2</text><text class="ts" x="3" y="57">4</text>
<text class="ts" x="123" y="28">6</text><text class="ts" x="123" y="57">4</text>
<rect class="bd" width="840" height="60"/>
<rect class="y" x="0" y="26.5" width="45" height="7"/><rect class="g" x="60" y="-3.5" width="45" height="7"/><rect class="r" x="120" y="11.5" width="75" height="7"/><rect class="r" x="300" y="11.5" width="45" height="7"/><rect class="g" x="360" y="-3.5" width="30" height="7"/><rect class="y" x="480" y="26.5" width="90" height="7"/><rect class="o" x="660" y="56.5" width="45" height="7"/><rect class="b" x="720" y="41.5" width="45" height="7"/><rect class="o" x="780" y="56.5" width="30" height="7"/>
<use href="#n" class="y" x="0" y="30"/><use href="#n" class="g" x="60" y="0"/><use href="#n" class="r" x="120" y="15"/><use href="#n" class="y" x="210" y="30"/><use href="#n" class="b" x="240" y="45"/><use href="#n" class="y" x="270" y="30"/>
<use href="#n" class="r" x="300" y="15"/><use href="#n" class="g" x="360" y="0"/><use href="#n" class="r" x="420" y="15"/><use href="#n" class="y" x="450" y="30"/><use href="#n" class="r" x="465" y="15"/><use href="#n" class="y" x="480" y="30"/>
<use href="#n" class="y" x="630" y="30"/><use href="#n" class="o" x="660" y="60"/><use href="#n" class="b" x="720" y="45"/><use href="#n" class="o" x="780" y="60"/>
<use href="#q" x="0"/><text class="tp" x="6" y="-33">=102</text>
<use href="#q" x="120"/><text class="tp" x="126" y="-33">=104</text>
<use href="#q" x="360"/><text class="tp" x="366" y="-33">=104</text>
<use href="#q" x="480"/><text class="tp" x="486" y="-33">=104</text>
<use href="#q" x="600"/><text class="tp" x="606" y="-33">=106</text>
<text class="mn" x="0.5" y="-8">90</text><text class="mn" x="120.5" y="-8">91</text><text class="mn" x="480.5" y="-8">92</text>
<text class="sc" x="119" y="75">110<tspan class="s2" x="119" y="88">46795</tspan><tspan class="s3" x="119" y="101">0.00%</tspan></text>
<text class="sc" x="479" y="75">388<tspan class="s2" x="479" y="88">49123</tspan><tspan class="s3" x="479" y="101">0.00%</tspan></text>
<text class="sc" x="839" y="75">269<tspan class="s2" x="839" y="88">50737</tspan><tspan class="s3" x="839" y="101">0.00%</tspan></text>
</g>

<g id="row-22" transform="translate(31,3430)">
<rect class="gd" width="900" height="60"/>
<path class="bar" d="M180 0v60M360 0v60M540 0v60M720 0v60"/>
<text class="ts" x="3" y="28">3</text><text class="ts" x="3" y="57">4</text>
<rect class="bd" width="900" height="60"/>
<rect class="o" x="30" y="56.5" width="510" height="7"/>
<use href="#n" class="o" x="0" y="60"/><use href="#n" class="r" x="15" y="15"/><use href="#n" class="o" x="30" y="60"/>
<use href="#q" x="0"/><text class="tp" x="6" y="-33">=100</text>
<use href="#q" x="180"/><text class="tp" x="186" y="-33">=101</text>
<use href="#q" x="360"/><text class="tp" x="366" y="-33">=101</text>
<use href="#q" x="540"/><text class="tp" x="546" y="-33">=103</text>
<use href="#q" x="720"/><text class="tp" x="726" y="-33">=101</text>
<text class="mn" x="0.5" y="-8">93</text><text class="mn" x="180.5" y="-8">94</text><text class="mn" x="360.5" y="-8">95</text><text class="mn" x="540.5" y="-8">96</text><text class="mn" x="720.5" y="-8">97</text>
<text class="sc" x="179" y="75">170<tspan class="s2" x="179" y="88">51757</tspan><tspan class="s3" x="179" y="101">0.00%</tspan></text>
<text class="sc" x="359" y="75">75<tspan class="s2" x="359" y="88">52207</tspan><tspan class="s3" x="359" y="101">0.00%</tspan></text>
<text class="sc" x="539" y="75">75<tspan class="s2" x="539" y="88">52657</tspan><tspan class="s3" x="539" y="101">0.00%</tspan></text>
<text class="sc" x="719" y="75">1<tspan class="s2" x="719" y="88">52663</tspan><tspan class="s3" x="719" y="101">0.00%</tspan></text>
<text class="sc" x="899" y="75">0<tspan class="s2" x="899" y="88">52663</tspan><tspan class="s3" x="899" y="101">0.00%</tspan></text>
</g>

<g id="row-23" transform="translate(31,3583)">
<rect class="gd" width="900" height="60"/>
<path class="bar" d="M180 0v60M360 0v60M540 0v60M720 0v60"/>
<rect class="bd" width="900" height="60"/>
<use href="#q" x="0"/><text class="tp" x="6" y="-33">=101</text>
<use href="#q" x="180"/><text class="tp" x="186" y="-33">=101</text>
<use href="#q" x="360"/><text class="tp" x="366" y="-33">=103</text>
<use href="#q" x="540"/><text class="tp" x="546" y="-33">=99</text>
<use href="#q" x="720"/><text class="tp" x="726" y="-33">=101</text>
<text class="mn" x="0.5" y="-8">98</text><text class="mn" x="180.5" y="-8">99</text><text class="mn" x="360.5" y="-8">100</text><text class="mn" x="540.5" y="-8">101</text><text class="mn" x="720.5" y="-8">102</text>
<text class="sc" x="179" y="75">0<tspan class="s2" x="179" y="88">52663</tspan><tspan class="s3" x="179" y="101">0.00%</tspan></text>
<text class="sc" x="359" y="75">0<tspan class="s2" x="359" y="88">52663</tspan><tspan class="s3" x="359" y="101">0.00%</tspan></text>
<text class="sc" x="539" y="75">0<tspan class="s2" x="539" y="88">52663</tspan><tspan class="s3" x="539" y="101">0.00%</tspan></text>
<text class="sc" x="719" y="75">0<tspan class="s2" x="719" y="88">52663</tspan><tspan class="s3" x="719" y="101">0.00%</tspan></text>
<text class="sc" x="899" y="75">0<tspan class="s2" x="899" y="88">52663</tspan><tspan class="s3" x="899" y="101">0.00%</tspan></text>
</g>

<g id="row-24" transform="translate(31,3736)">
<rect class="gd" width="900" height="60"/>
<path class="bar" d="M180 0v60M360 0v60M540 0v60M720 0v60"/>
<rect class="bd" width="900" height="60"/>
<use href="#q" x="0"/><text class="tp" x="6" y="-33">=102</text>
<use href="#q" x="180"/><text class="tp" x="186" y="-33">=102</text>
<use href="#q" x="360"/><text class="tp" x="366" y="-33">=101</text>
<use href="#q" x="540"/><text class="tp" x="546" y="-33">=102</text>
<use href="#q" x="600"/><text class="tp" x="606" y="-33">=117</text>
<use href="#q" x="660"/><text class="tp" x="666" y="-33">=96</text>
<use href="#q" x="720"/><text class="tp" x="726" y="-33">=104</text>
<text class="mn" x="0.5" y="-8">103</text><text class="mn" x="180.5" y="-8">104</text><text class="mn" x="360.5" y="-8">105</text><text class="mn" x="540.5" y="-8">106</text><text class="mn" x="720.5" y="-8">107</text>
<text class="sc" x="179" y="75">0<tspan class="s2" x="179" y="88">52663</tspan><tspan class="s3" x="179" y="101">0.00%</tspan></text>
<text class="sc" x="359" y="75">0<tspan class="s2" x="359" y="88">52663</tspan><tspan class="s3" x="359" y="101">0.00%</tspan></text>
<text class="sc" x="539" y="75">0<tspan class="s2" x="539" y="88">52663</tspan><tspan class="s3" x="539" y="101">0.00%</tspan></text>
<text class="sc" x="719" y="75">0<tspan class="s2" x="719" y="88">52663</tspan><tspan class="s3" x="719" y="101">0.00%</tspan></text>
<text class="sc" x="899" y="75">0<tspan class="s2" x="899" y="88">52663</tspan><tspan class="s3" x="899" y="101">0.00%</tspan></text>
</g>

<g id="row-25" transform="translate(31,3889)">
<rect class="gd" width="900" height="60"/>
<path class="bar" d="M180 0v60M540 0v60"/>
<text class="ts" x="183" y="28">6</text><text class="ts" x="183" y="57">4</text>
<rect class="bd" width="900" height="60"/>
<rect class="r" x="180" y="11.5" width="75" height="7"/><rect class="r" x="360" y="11.5" width="45" height="7"/><rect class="g" x="420" y="-3.5" width="30" height="7"/><rect class="y" x="540" y="26.5" width="90" height="7"/><rect class="o" x="720" y="56.5" width="45" height="7"/><rect class="b" x="780" y="41.5" width="45" height="7"/><rect class="b" x="840" y="41.5" width="45" height="7"/>
<use href="#s" class="r" x="180" y="15"/><use href="#s" class="y" x="270" y="30"/><use href="#s" class="y" x="330" y="30"/><use href="#s" class="b" x="300" y="45"/><use href="#s" class="r" x="360" y="15"/>
<use href="#n" class="g" x="420" y="0"/><use href="#n" class="r" x="480" y="15"/><use href="#n" class="y" x="510" y="30"/><use href="#n" class="g" x="525" y="0"/><use href="#n" class="y" x="540" y="30"/>
<use href="#n" class="y" x="690" y="30"/><use href="#n" class="o" x="720" y="60"/><use href="#n" class="b" x="780" y="45"/><use href="#n" class="b" x="840" y="45"/>
<rect class="gr" x="180" y="0" width="225" height="60"/>
<use href="#q" x="0"/><text class="tp" x="6" y="-33">=103</text>
<use href="#q" x="180"/><text class="tp" x="186" y="-33">=107</text>
<use href="#q" x="360"/><text class="tp" x="366" y="-33">=103</text>
<use href="#q" x="540"/><text class="tp" x="546" y="-33">=106</text>
<use href="#q" x="720"/><text class="tp" x="726" y="-33">=104</text>
<text class="mn" x="0.5" y="-8">108</text><text class="mn" x="180.5" y="-8">109</text><text class="mn" x="540.5" y="-8">110</text>
<text class="sc" x="179" y="75">0<tspan class="s2" x="179" y="88">52663</tspan><tspan class="s3" x="179" y="101">0.00%</tspan></text>
<text class="sc" x="539" y="75">388<tspan class="s2" x="539" y="88">54991</tspan><tspan class="s3" x="539" y="101">25.00%</tspan></text>
<text class="sc" x="899" y="75">275<tspan class="s2" x="899" y="88">56641</tspan><tspan class="s3" x="899" y="101">25.00%</tspan></text>
</g>

<g id="row-26" transform="translate(31,4042)">
<rect class="gd" width="720" height="60"/>
<path class="bar" d="M360 0v60"/>
<rect class="bd" width="720" height="60"/>
<rect class="r" x="0" y="11.5" width="75" height="7"/><rect class="r" x="180" y="11.5" width="45" height="7"/><rect class="g" x="240" y="-3.5" width="30" height="7"/><rect class="y" x="360" y="26.5" width="90" height="7"/><rect class="o" x="540" y="56.5" width="45" height="7"/><rect class="b" x="600" y="41.5" width="45" height="7"/><rect class="o" x="660" y="56.5" width="30" height="7"/>
<use href="#n" class="r" x="0" y="15"/><use href="#n" class="y" x="90" y="30"/><use href="#n" class="b" x="120" y="45"/><use href="#n" class="y" x="150" y="30"/><use href="#n" class="r" x="180" y="15"/><use href="#n" class="g" x="240" y="0"/>
<use href="#n" class="r" x="300" y="15"/><use href="#n" class="y" x="330" y="30"/><use href="#n" class="g" x="345" y="0"/><use href="#n" class="y" x="360" y="30"/><use href="#n" class="y" x="510" y="30"/>
<use href="#n" class="o" x="540" y="60"/><use href="#n" class="b" x="600" y="45"/><use href="#n" class="o" x="660" y="60"/>
<use href="#q" x="0"/><text class="tp" x="6" y="-33">=107</text>
<use href="#q" x="360"/><text class="tp" x="366" y="-33">=107</text>
<text class="mn" x="0.5" y="-8">111</text><text class="mn" x="360.5" y="-8">112</text>
<text class="sc" x="359" y="75">388<tspan class="s2" x="359" y="88">58969</tspan><tspan class="s3" x="359" y="101">25.00%</tspan></text>
<text class="sc" x="719" y="75">269<tspan class="s2" x="719" y="88">60583</tspan><tspan class="s3" x="719" y="101">25.00%</tspan></text>
</g>

<g id="row-27" transform="translate(31,4195)">
<rect class="gd" width="720" height="60"/>
<path class="bar" d="M360 0v60"/>
<rect class="bd" width="720" height="60"/>
<rect class="o" x="30" y="56.5" width="300" height="7"/>
<use href="#n" class="o" x="0" y="60"/><use href="#n" class="r" x="15" y="15"/><use href="#n" class="o" x="30" y="60"/>
<use href="#q" x="0"/><text class="tp" x="6" y="-33">=108</text>
<use href="#q" x="120"/><text class="tp" x="126" y="-33">=106</text>
<use href="#q" x="360"/><text class="tp" x="366" y="-33">=110</text>
<use href="#q" x="540"/><text class="tp" x="546" y="-33">=108</text>
<text class="mn" x="0.5" y="-8">113</text><text class="mn" x="360.5" y="-8">114</text>
<text class="sc" x="359" y="75">233<tspan class="s2" x="359" y="88">61981</tspan><tspan class="s3" x="359" y="101">25.00%</tspan></text>
<text class="sc" x="719" y="75">0<tspan class="s2" x="719" y="88">61981</tspan><tspan class="s3" x="719" y="101">25.00%</tspan></text>
</g>

<g id="row-28" transform="translate(31,4348)">
<rect class="gd" width="900" height="60"/>
<path class="bar" d="M360 0v60M540 0v60"/>
<text class="ts" x="363" y="28">3</text><text class="ts" x="363" y="57">4</text>
<text class="ts" x="543" y="28">6</text><text class="ts" x="543" y="57">4</text>
<rect class="bd" width="900" height="60"/>
<use href="#q" x="0"/><text class="tp" x="6" y="-33">=111</text>
<use href="#q" x="360"/><text class="tp" x="366" y="-33">=109</text>
<use href="#q" x="540"/><text class="tp" x="546" y="-33">=109</text>
<use href="#q" x="720"/><text class="tp" x="726" y="-33">=108</text>
<text class="mn" x="0.5" y="-8">115</text><text class="mn" x="360.5" y="-8">116</text><text class="mn" x="540.5" y="-8">117</text>
<text class="sc" x="359" y="75">0<tspan class="s2" x="359" y="88">61981</tspan><tspan class="s3" x="359" y="101">25.00%</tspan></text>
<text class="sc" x="539" y="75">0<tspan class="s2" x="539" y="88">61981</tspan><tspan class="s3" x="539" y="101">25.00%</tspan></text>
<text class="sc" x="899" y="75">0<tspan class="s2" x="899" y="88">61981</tspan><tspan class="s3" x="899" y="101">25.00%</tspan></text>
</g>

<g id="row-29" transform="translate(31,4501)">
<rect class="gd" width="900" height="60"/>
<path class="bar" d="M180 0v60M540 0v60"/>
<text class="ts" x="3" y="28">3</text><text class="ts" x="3" y="57">4</text>
<text class="ts" x="183" y="28">6</text><text class="ts" x="183" y="57">4</text>
<rect class="bd" width="900" height="60"/>
<use href="#q" x="0"/><text class="tp" x="6" y="-33">=111</text>
<use href="#q" x="180"/><text class="tp" x="186" y="-33">=111</text>
<use href="#q" x="240"/><text class="tp" x="246" y="-33">=106</text>
<use href="#q" x="300"/><text class="tp" x="306" y="-33">=107</text>
<use href="#q" x="540"/><text class="tp" x="546" y="-33">=112</text>
<text class="mn" x="0.5" y="-8">118</text><text class="mn" x="180.5" y="-8">119</text><text class="mn" x="540.5" y="-8">120</text>
<text class="sc" x="179" y="75">0<tspan class="s2" x="179" y="88">61981</tspan><tspan class="s3" x="179" y="101">25.00%</tspan></text>
<text class="sc" x="539" y="75">0<tspan class="s2" x="539" y="88">61981</tspan><tspan class="s3" x="539" y="101">25.00%</tspan></text>
<text class="sc" x="899" y="75">0<tspan class="s2" x="899" y="88">61981</tspan><tspan class="s3" x="899" y="101">25.00%</tspan></text>
</g>

<g id="row-30" transform="translate(31,4654)">
<rect class="gd" width="720" height="60"/>
<path class="bar" d="M360 0v60"/>
<rect class="bd" width="720" height="60"/>
<use href="#q" x="0"/><text class="tp" x="6" y="-33">=108</text>
<use href="#q" x="360"/><text class="tp" x="366" y="-33">=110</text>
<text class="mn" x="0.5" y="-8">121</text><text class="mn" x="360.5" y="-8">122</text>
<text class="sc" x="359" y="75">0<tspan class="s2" x="359" y="88">61981</tspan><tspan class="s3" x="359" y="101">25.00%</tspan></text>
<text class="sc" x="719" y="75">0<tspan class="s2" x="719" y="88">61981</tspan><tspan class="s3" x="719" y="101">25.00%</tspan></text>
</g>

<g id="row-31" transform="translate(31,4807)">
<rect class="gd" width="720" height="60"/>
<path class="bar" d="M360 0v60"/>
<rect class="bd" width="720" height="60"/>
<use href="#q" x="0"/><text class="tp" x="6" y="-33">=110</text>
<use href="#q" x="360"/><text class="tp" x="366" y="-33">=111</text>
<text class="mn" x="0.5" y="-8">123</text><text class="mn" x="360.5" y="-8">124</text>
<text class="sc" x="359" y="75">0<tspan class="s2" x="359" y="88">61981</tspan><tspan class="s3" x="359" y="101">25.00%</tspan></text>
<text class="sc" x="719" y="75">0<tspan class="s2" x="719" y="88">61981</tspan><tspan class="s3" x="719" y="101">25.00%</tspan></text>
</g>

<g id="row-32" transform="translate(31,4960)">
<rect class="gd" width="960" height="60"/>
<path class="bar" d="M360 0v60M720 0v60"/>
<text class="ts" x="723" y="28">4</text><text class="ts" x="723" y="57">4</text>
<rect class="bd" width="960" height="60"/>
<use href="#q" x="0"/><text class="tp" x="6" y="-33">=112</text>
<use href="#q" x="360"/><text class="tp" x="366" y="-33">=110</text>
<use href="#q" x="720"/><text class="tp" x="726" y="-33">=112</text>
<text class="mn" x="0.5" y="-8">125</text><text class="mn" x="360.5" y="-8">126</text><text class="mn" x="720.5" y="-8">127</text>
<text class="sc" x="359" y="75">0<tspan class="s2" x="359" y="88">61981</tspan><tspan class="s3" x="359" y="101">25.00%</tspan></text>
<text class="sc" x="719" y="75">0<tspan class="s2" x="719" y="88">61981</tspan><tspan class="s3" x="719" y="101">25.00%</tspan></text>
<text class="sc" x="959" y="75">0<tspan class="s2" x="959" y="88">61981</tspan><tspan class="s3" x="959" y="101">25.00%</tspan></text>
</g>

<g id="row-33" transform="translate(31,5113)">
<rect class="gd" width="960" height="60"/>
<path class="bar" d="M240 0v60M480 0v60M720 0v60"/>
<rect class="bd" width="960" height="60"/>
<use href="#q" x="0"/><text class="tp" x="6" y="-33">=111</text>
<use href="#q" x="240"/><text class="tp" x="246" y="-33">=111</text>
<use href="#q" x="480"/><text class="tp" x="486" y="-33">=111</text>
<use href="#q" x="720"/><text class="tp" x="726" y="-33">=112</text>
<text class="mn" x="0.5" y="-8">128</text><text class="mn" x="240.5" y="-8">129</text><text class="mn" x="480.5" y="-8">130</text><text class="mn" x="720.5" y="-8">131</text>
<text class="sc" x="239" y="75">0<tspan class="s2" x="239" y="88">61981</tspan><tspan class="s3" x="239" y="101">25.00%</tspan></text>
<text class="sc" x="479" y="75">0<tspan class="s2" x="479" y="88">61981</tspan><tspan class="s3" x="479" y="101">25.00%</tspan></text>
<text class="sc" x="719" y="75">0<tspan class="s2" x="719" y="88">61981</tspan><tspan class="s3" x="719" y="101">25.00%</tspan></text>
<text class="sc" x="959" y="75">0<tspan class="s2" x="959" y="88">61981</tspan><tspan class="s3" x="959" y="101">25.00%</tspan></text>
</g>

<g id="row-34" transform="translate(31,5266)">
<rect class="gd" width="960" height="60"/>
<path class="bar" d="M240 0v60M480 0v60M720 0v60"/>
<rect class="bd" width="960" height="60"/>
<use href="#q" x="0"/><text class="tp" x="6" y="-33">=112</text>
<use href="#q" x="240"/><text class="tp" x="246" y="-33">=111</text>
<use href="#q" x="480"/><text class="tp" x="486" y="-33">=112</text>
<use href="#q" x="720"/><text class="tp" x="726" y="-33">=111</text>
<text class="mn" x="0.5" y="-8">132</text><text class="mn" x="240.5" y="-8">133</text><text class="mn" x="480.5" y="-8">134</text><text class="mn" x="720.5" y="-8">135</text>
<text class="sc" x="239" y="75">0<tspan class="s2" x="239" y="88">61981</tspan><tspan class="s3" x="239" y="101">25.00%</tspan></text>
<text class="sc" x="479" y="75">0<tspan class="s2" x="479" y="88">61981</tspan><tspan class="s3" x="479" y="101">25.00%</tspan></text>
<text class="sc" x="719" y="75">0<tspan class="s2" x="719" y="88">61981</tspan><tspan class="s3" x="719" y="101">25.00%</tspan></text>
<text class="sc" x="959" y="75">0<tspan class="s2" x="959" y="88">61981</tspan><tspan class="s3" x="959" y="101">25.00%</tspan></text>
</g>

<g id="row-35" transform="translate(31,5419)">
<rect class="gd" width="960" height="60"/>
<path class="bar" d="M240 0v60M480 0v60M720 0v60"/>
<rect class="bd" width="960" height="60"/>
<use href="#s" class="b" x="240" y="45"/><use href="#s" class="b" x="270" y="45"/><use href="#s" class="b" x="330" y="45"/><use href="#s" class="b" x="360" y="45"/><use href="#s" class="b" x="390" y="45"/><use href="#s" class="b" x="420" y="45"/><use href="#s" class="r" x="375" y="15"/>
<use href="#n" class="r" x="495" y="15"/><use href="#n" class="r" x="615" y="15"/><use href="#n" class="r" x="735" y="15"/><use href="#n" class="r" x="855" y="15"/><use href="#n" class="o" x="690" y="60"/>
<use href="#n" class="b" x="480" y="45"/><use href="#n" class="b" x="510" y="45"/><use href="#n" class="b" x="540" y="45"/><use href="#n" class="b" x="600" y="45"/><use href="#n" class="b" x="630" y="45"/><use href="#n" class="b" x="660" y="45"/>
<use href="#n" class="b" x="720" y="45"/><use href="#n" class="b" x="750" y="45"/><use href="#n" class="b" x="780" y="45"/><use href="#n" class="b" x="840" y="45"/><use href="#n" class="b" x="870" y="45"/><use href="#n" class="b" x="900" y="45"/>
<rect class="gr" x="240" y="0" width="180" height="60"/>
<use href="#q" x="0"/><text class="tp" x="6" y="-33">=112</text>
<use href="#q" x="240"/><text class="tp" x="246" y="-33">=110</text>
<use href="#q" x="480"/><text class="tp" x="486" y="-33">=110</text>
<use href="#q" x="720"/><text class="tp" x="726" y="-33">=111</text>
<text class="mn" x="0.5" y="-8">136</text><text class="mn" x="240.5" y="-8">137</text><text class="mn" x="480.5" y="-8">138</text><text class="mn" x="720.5" y="-8">139</text>
<text class="sc" x="239" y="75">0<tspan class="s2" x="239" y="88">61981</tspan><tspan class="s3" x="239" y="101">25.00%</tspan></text>
<text class="sc" x="479" y="75">252<tspan class="s2" x="479" y="88">63493</tspan><tspan class="s3" x="479" y="101">50.00%</tspan></text>
<text class="sc" x="719" y="75">324<tspan class="s2" x="719" y="88">65437</tspan><tspan class="s3" x="719" y="101">50.00%</tspan></text>
<text class="sc" x="959" y="75">288<tspan class="s2" x="959" y="88">67165</tspan><tspan class="s3" x="959" y="101">50.00%</tspan></text>
</g>

<g id="row-36" transform="translate(31,5572)">
<rect class="gd" width="960" height="60"/>
<path class="bar" d="M240 0v60M480 0v60M720 0v60"/>
<rect class="bd" width="960" height="60"/>
<rect class="b" x="260" y="41.5" width="100" height="7"/>
<use href="#n" class="r" x="15" y="15"/><use href="#n" class="r" x="135" y="15"/>
<use href="#n" class="b" x="0" y="45"/><use href="#n" class="b" x="30" y="45"/><use href="#n" class="b" x="60" y="45"/><use href="#n" class="b" x="120" y="45"/><use href="#n" class="b" x="150" y="45"/><use href="#n" class="b" x="180" y="45"/><use href="#n" class="b" x="210" y="45"/><use href="#n" class="b" x="240" y="45"/><use href="#n" class="b" x="260" y="45"/>
<use href="#n" class="g" x="250" y="0"/>
<use href="#q" x="0"/><text class="tp" x="6" y="-33">=112</text>
<use href="#q" x="240"/><text class="tp" x="246" y="-33">=112</text>
<use href="#q" x="480"/><text class="tp" x="486" y="-33">=111</text>
<use href="#q" x="720"/><text class="tp" x="726" y="-33">=111</text>
<text class="mn" x="0.5" y="-8">140</text><text class="mn" x="240.5" y="-8">141</text><text class="mn" x="480.5" y="-8">142</text><text class="mn" x="720.5" y="-8">143</text>
<text class="sc" x="239" y="75">324<tspan class="s2" x="239" y="88">69109</tspan><tspan class="s3" x="239" y="101">50.00%</tspan></text>
<text class="sc" x="479" y="75">150<tspan class="s2" x="479" y="88">70009</tspan><tspan class="s3" x="479" y="101">50.00%</tspan></text>
<text class="sc" x="719" y="75">0<tspan class="s2" x="719" y="88">70009</tspan><tspan class="s3" x="719" y="101">50.00%</tspan></text>
<text class="sc" x="959" y="75">0<tspan class="s2" x="959" y="88">70009</tspan><tspan class="s3" x="959" y="101">50.00%</tspan></text>
</g>

<g id="row-37" transform="translate(31,5725)">
<rect class="gd" width="960" height="60"/>
<path class="bar" d="M240 0v60M480 0v60M720 0v60"/>
<rect class="bd" width="960" height="60"/>
<use href="#n" class="o" x="240" y="60"/>
<use href="#n" class="b" x="270" y="45"/><use href="#n" class="b" x="330" y="45"/><use href="#n" class="b" x="360" y="45"/><use href="#n" class="b" x="390" y="45"/><use href="#n" class="b" x="420" y="45"/>
<use href="#n" class="b" x="480" y="45"/><use href="#n" class="b" x="510" y="45"/><use href="#n" class="b" x="540" y="45"/><use href="#n" class="b" x="600" y="45"/><use href="#n" class="b" x="630" y="45"/><use href="#n" class="b" x="660" y="45"/>
<use href="#n" class="b" x="720" y="45"/><use href="#n" class="b" x="750" y="45"/><use href="#n" class="b" x="780" y="45"/><use href="#n" class="b" x="840" y="45"/><use href="#n" class="b" x="870" y="45"/><use href="#n" class="b" x="900" y="45"/>
<use href="#n" class="r" x="375" y="15"/><use href="#n" class="r" x="495" y="15"/><use href="#n" class="r" x="615" y="15"/><use href="#n" class="r" x="735" y="15"/><use href="#n" class="r" x="855" y="15"/><use href="#n" class="o" x="690" y="60"/>
<rect class="bl" x="270" y="0" width="690" height="60"/>
<use href="#q" x="0"/><text class="tp" x="6" y="-33">=110</text>
<use href="#q" x="240"/><text class="tp" x="246" y="-33">=112</text>
<use href="#q" x="480"/><text class="tp" x="486" y="-33">=112</text>
<use href="#q" x="720"/><text class="tp" x="726" y="-33">=111</text>
<text class="mn" x="0.5" y="-8">144</text><text class="mn" x="240.5" y="-8">145</text><text class="mn" x="480.5" y="-8">146</text><text class="mn" x="720.5" y="-8">147</text>
<text class="sc" x="239" y="75">0<tspan class="s2" x="239" y="88">70009</tspan><tspan class="s3" x="239" y="101">50.00%</tspan></text>
<text class="sc" x="479" y="75">252<tspan class="s2" x="479" y="88">72817</tspan><tspan class="s3" x="479" y="101">39.14%</tspan></text>
<text class="sc" x="719" y="75">324<tspan class="s2" x="719" y="88">76705</tspan><tspan class="s3" x="719" y="101">26.64%</tspan></text>
<text class="sc" x="959" y="75">288<tspan class="s2" x="959" y="88">80161</tspan><tspan class="s3" x="959" y="101">14.14%</tspan></text>
</g>

<g id="row-38" transform="translate(31,5878)">
<rect class="gd" width="720" height="60"/>
<path class="bar" d="M240 0v60M480 0v60"/>
<rect class="bd" width="720" height="60"/>
<rect class="o" x="260" y="56.5" width="85" height="7"/><rect class="r" x="360" y="11.5" width="180" height="7"/>
<use href="#n" class="r" x="15" y="15"/><use href="#n" class="r" x="135" y="15"/>
<use href="#n" class="b" x="0" y="45"/><use href="#n" class="b" x="30" y="45"/><use href="#n" class="b" x="60" y="45"/><use href="#n" class="b" x="120" y="45"/><use href="#n" class="b" x="150" y="45"/><use href="#n" class="b" x="180" y="45"/><use href="#n" class="b" x="210" y="45"/>
<use href="#n" class="g" x="250" y="0"/><use href="#n" class="o" x="240" y="60"/><use href="#n" class="o" x="260" y="60"/><use href="#n" class="r" x="360" y="15"/>
<rect class="bl" x="0" y="0" width="270" height="60"/>
<use href="#q" x="0"/><text class="tp" x="6" y="-33">=112</text>
<use href="#q" x="240"/><text class="tp" x="246" y="-33">=110</text>
<use href="#q" x="480"/><text class="tp" x="486" y="-33">=111</text>
<text class="mn" x="0.5" y="-8">148</text><text class="mn" x="240.5" y="-8">149</text><text class="mn" x="480.5" y="-8">150</text>
<text class="sc" x="239" y="75">324<tspan class="s2" x="239" y="88">84049</tspan><tspan class="s3" x="239" y="101">1.64%</tspan></text>
<text class="sc" x="479" y="75">229<tspan class="s2" x="479" y="88">86101</tspan><tspan class="s3" x="479" y="101">0.00%</tspan></text>
<text class="sc" x="719" y="75">26<tspan class="s2" x="719" y="88">86257</tspan><tspan class="s3" x="719" y="101">0.00%</tspan></text>
</g>
</g>
</svg>
